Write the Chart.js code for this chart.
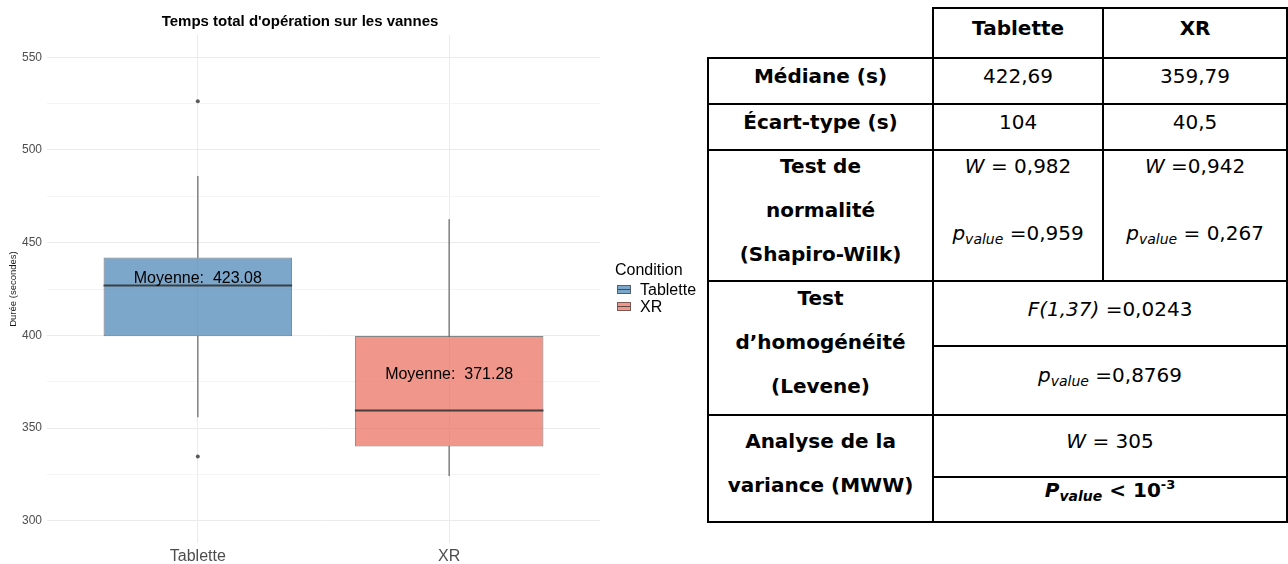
<!DOCTYPE html>
<html>
<head>
  <meta charset="utf-8">
  <title>index</title>
  <script src="https://cdn.jsdelivr.net/npm/chart.js"></script>
  <style>
    body { margin: 0; width: 1288px; height: 564px; overflow: hidden; background: #fff; position: relative; }
    #plot { position: absolute; left: 0; top: 0; width: 647px; height: 564px; }

    .legend { position: absolute; left: 615px; top: 259px; font-family: "Liberation Sans", Arial, sans-serif; color: #000; }
    .legend .head { font-size: 16px; line-height: 22px; }
    .legend .item { position: relative; height: 17px; line-height: 17px; font-size: 16px; padding-left: 25px; }
    .legend .key { position: absolute; left: 2px; top: 4px; width: 12px; height: 7px; border: 1px solid rgba(51,51,51,0.6); }
    .legend .key::after { content: ""; position: absolute; left: 0; right: 0; top: 3px; height: 1px; background: rgba(51,51,51,0.8); }

    #stats { position: absolute; left: 707px; top: 7px; border-collapse: collapse; table-layout: fixed;
             font-family: "DejaVu Sans", sans-serif; font-size: 20px; color: #000; }
    #stats td { border: 2px solid #000; text-align: center; vertical-align: middle; padding: 0; white-space: nowrap; }
    #stats td.blank { border-top: none; border-left: none; }
    #stats td > div { position: relative; top: -5px; }
    #stats .rowhead { font-weight: bold; line-height: 44px; margin: -3px 0; }
    #stats .pair div { line-height: 24px; }
    #stats .pair .gap { height: 43px; }
    .sub { font-size: 14px; vertical-align: -4px; font-style: italic; }
    .sup { font-size: 13px; vertical-align: 8px; }
  </style>
</head>
<body>
  <div id="plot"><canvas id="chart"></canvas></div>

  <div class="legend">
    <div class="head">Condition</div>
    <div class="item"><span class="key" style="background:rgba(70,130,180,0.7)"></span>Tablette</div>
    <div class="item"><span class="key" style="background:rgba(235,105,88,0.7)"></span>XR</div>
  </div>

  <table id="stats">
    <colgroup><col style="width:226px"><col style="width:171px"><col style="width:185px"></colgroup>
    <tr style="height:50px">
      <td class="blank"></td>
      <td><div><b>Tablette</b></div></td>
      <td><div><b>XR</b></div></td>
    </tr>
    <tr style="height:46px">
      <td><div><b>Médiane (s)</b></div></td>
      <td><div>422,69</div></td>
      <td><div>359,79</div></td>
    </tr>
    <tr style="height:46px">
      <td><div><b>Écart-type (s)</b></div></td>
      <td><div>104</div></td>
      <td><div>40,5</div></td>
    </tr>
    <tr style="height:131px">
      <td><div class="rowhead" style="top:-6px">Test de<br>normalité<br>(Shapiro-Wilk)</div></td>
      <td class="pair"><div style="top:-13px"><div><i>W</i> = 0,982</div><div class="gap"></div><div><i>p</i><span class="sub">value</span> =0,959</div></div></td>
      <td class="pair"><div style="top:-13px"><div><i>W</i> =0,942</div><div class="gap"></div><div><i>p</i><span class="sub">value</span> = 0,267</div></div></td>
    </tr>
    <tr style="height:65px">
      <td rowspan="2"><div class="rowhead" style="top:-6px">Test<br>d’homogénéité<br>(Levene)</div></td>
      <td colspan="2"><div><i>F(1,37)</i> =0,0243</div></td>
    </tr>
    <tr style="height:69px">
      <td colspan="2"><div><i>p</i><span class="sub">value</span> =0,8769</div></td>
    </tr>
    <tr style="height:62px">
      <td rowspan="2"><div class="rowhead" style="top:-6px">Analyse de la<br>variance (MWW)</div></td>
      <td colspan="2"><div><i>W</i> = 305</div></td>
    </tr>
    <tr style="height:45px">
      <td colspan="2"><div style="top:-9px"><b><i>P</i><span class="sub" style="font-weight:bold">value</span> &lt; 10<span class="sup">-3</span></b></div></td>
    </tr>
  </table>

  <script>
    // Boxplot summaries per condition (seconds)
    const conditions = ['Tablette', 'XR'];
    const whiskerLow = [356.0, 324.3];
    const q1 = [399.5, 340.1];
    const medians = [426.9, 359.5];
    const q3 = [442.0, 399.6];
    const whiskerHigh = [485.8, 462.5];
    const means = [423.08, 371.28];
    const outliers = [[526.2, 334.6], []];
    const yTicks = [300, 350, 400, 450, 500, 550];
    const yMinorTicks = [325, 375, 425, 475, 525];

    const fills = ['rgba(70,130,180,0.7)', 'rgba(235,105,88,0.7)'];

    Chart.defaults.font.family = '"Liberation Sans", Arial, sans-serif';

    // median line and mean label on top of each box
    const boxExtras = {
      id: 'boxExtras',
      afterDatasetsDraw(chart) {
        const { ctx, scales: { y } } = chart;
        const boxes = chart.getDatasetMeta(1).data;
        ctx.save();
        boxes.forEach((bar, i) => {
          const half = bar.width / 2;
          const ym = y.getPixelForValue(medians[i]);
          ctx.strokeStyle = 'rgba(51,51,51,0.9)';
          ctx.lineWidth = 2;
          ctx.beginPath();
          ctx.moveTo(bar.x - half, ym);
          ctx.lineTo(bar.x + half, ym);
          ctx.stroke();

          ctx.fillStyle = '#000';
          ctx.font = '16px "Liberation Sans", Arial, sans-serif';
          ctx.textAlign = 'center';
          ctx.textBaseline = 'middle';
          ctx.fillText('Moyenne:  ' + means[i].toFixed(2), bar.x, y.getPixelForValue(means[i]) - 14);
        });
        ctx.restore();
      }
    };

    const whiskerStyle = {
      type: 'bar',
      backgroundColor: 'rgba(51,51,51,0.55)',
      barThickness: 1,
      grouped: false
    };

    new Chart(document.getElementById('chart'), {
      type: 'bar',
      data: {
        datasets: [
          {
            type: 'scatter',
            data: outliers.flatMap((vals, i) => vals.map(v => ({ x: i + 1, y: v }))),
            pointRadius: 2,
            pointBackgroundColor: 'rgba(51,51,51,0.8)',
            pointBorderWidth: 0
          },
          {
            data: conditions.map((c, i) => ({ x: i + 1, y: [q1[i], q3[i]] })),
            backgroundColor: fills,
            borderColor: 'rgba(51,51,51,0.6)',
            borderWidth: 1,
            borderSkipped: false,
            barPercentage: 0.75,
            categoryPercentage: 1,
            grouped: false
          },
          { ...whiskerStyle, data: conditions.map((c, i) => ({ x: i + 1, y: [q3[i], whiskerHigh[i]] })) },
          { ...whiskerStyle, data: conditions.map((c, i) => ({ x: i + 1, y: [whiskerLow[i], q1[i]] })) }
        ]
      },
      options: {
        responsive: true,
        maintainAspectRatio: false,
        animation: false,
        events: [],
        layout: { padding: { left: 0, right: 47, top: 0, bottom: 0 } },
        plugins: {
          legend: { display: false },
          tooltip: { enabled: false },
          title: {
            display: true,
            text: "Temps total d'opération sur les vannes",
            color: '#000',
            font: { size: 15, weight: 'bold' },
            padding: { top: 13, bottom: 4 }
          }
        },
        scales: {
          x: {
            type: 'linear',
            min: 0.4,
            max: 2.6,
            offset: false,
            afterBuildTicks: s => { s.ticks = conditions.map((c, i) => ({ value: i + 1 })); },
            afterFit: s => { s.height = 21; },
            grid: { color: '#ebebeb', drawTicks: false, offset: false },
            border: { display: false },
            ticks: {
              callback: v => conditions[v - 1],
              color: '#4d4d4d',
              font: { size: 16, lineHeight: 1 },
              padding: 6
            }
          },
          y: {
            min: 288,
            max: 562,
            afterBuildTicks: s => {
              s.ticks = yTicks.concat(yMinorTicks).sort((a, b) => a - b).map(v => ({ value: v }));
            },
            afterFit: s => { s.width = 47; },
            grid: {
              color: c => yTicks.includes(c.tick.value) ? '#ebebeb' : '#f4f4f4',
              drawTicks: false
            },
            border: { display: false },
            ticks: {
              callback: v => yTicks.includes(v) ? String(v) : '',
              color: '#4d4d4d',
              font: { size: 12 },
              padding: 5
            },
            title: {
              display: true,
              text: 'Durée (secondes)',
              color: '#1a1a1a',
              font: { size: 9.5 },
              padding: { top: 8, bottom: 0 }
            }
          }
        }
      },
      plugins: [boxExtras]
    });
  </script>
</body>
</html>
